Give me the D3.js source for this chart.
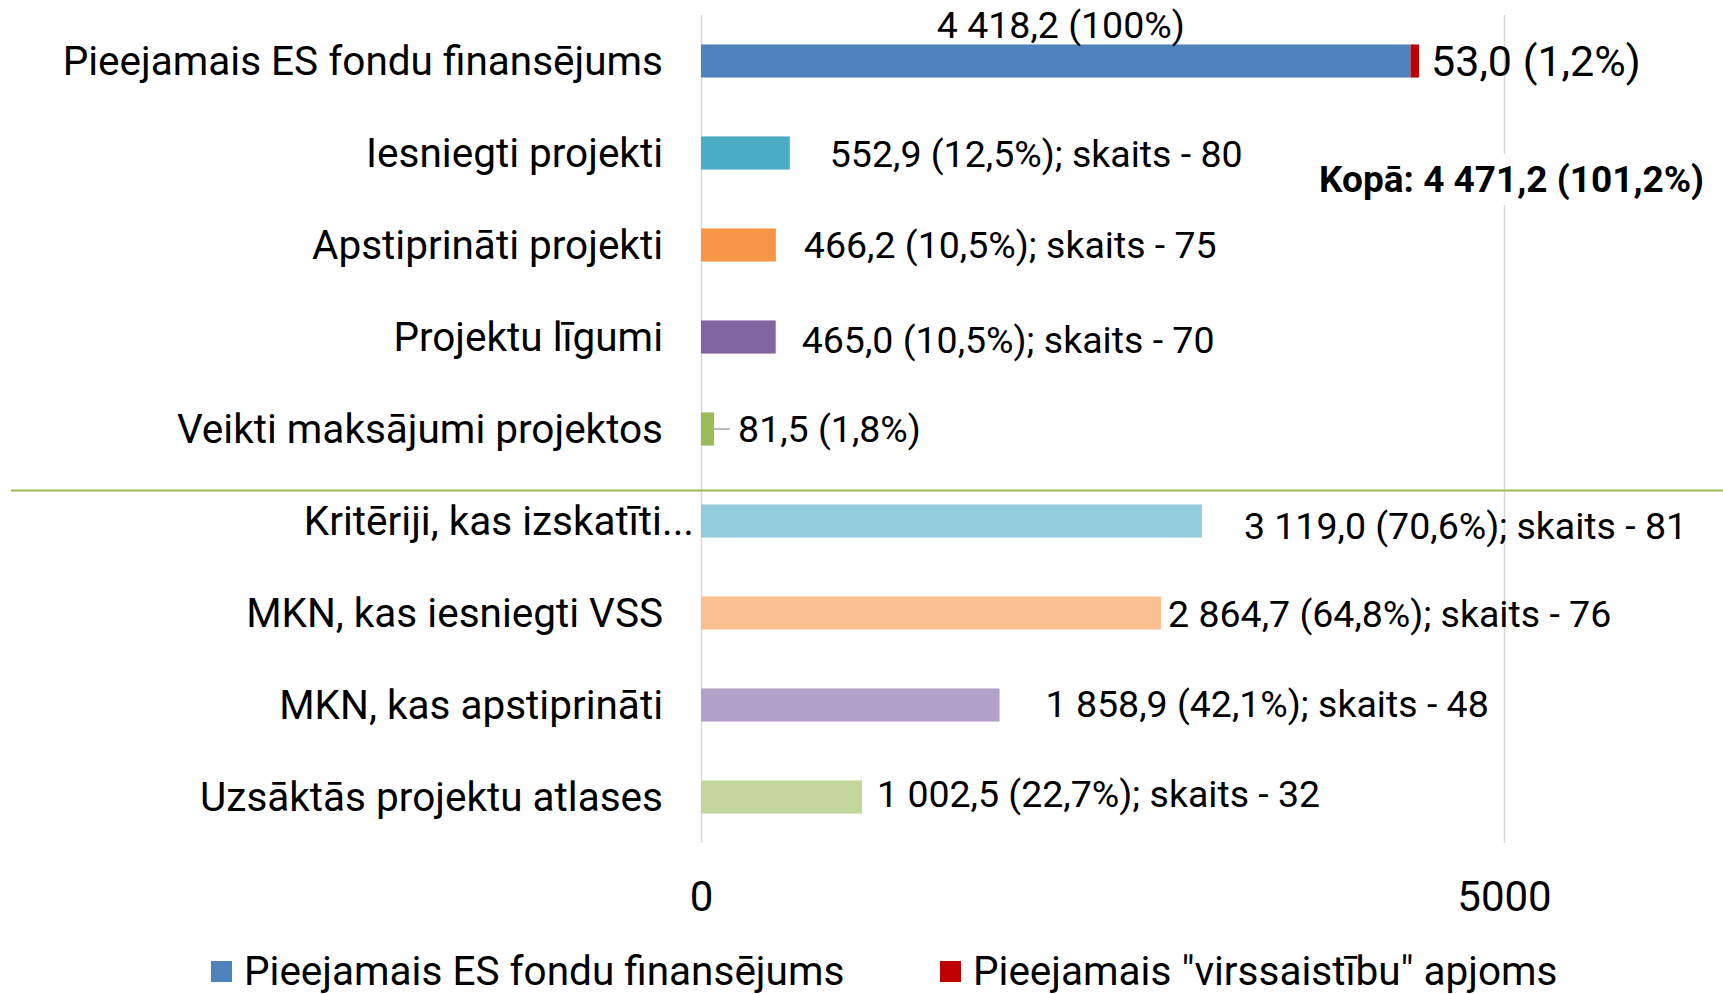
<!DOCTYPE html>
<html>
<head>
<meta charset="utf-8">
<script src="https://cdn.jsdelivr.net/npm/d3@7"></script>
<style>
  body { margin: 0; background: #fff; }
  svg { display: block; font-family: Roboto, "Liberation Sans", sans-serif; }
</style>
</head>
<body>
<div id="wrapper"></div>
<script>
// Data
const categories = [
  "Pieejamais ES fondu finansējums",
  "Iesniegti projekti",
  "Apstiprināti projekti",
  "Projektu līgumi",
  "Veikti maksājumi projektos",
  "Kritēriji, kas izskatīti...",
  "MKN, kas iesniegti VSS",
  "MKN, kas apstiprināti",
  "Uzsāktās projektu atlases",
];
const values = [4418.2, 552.9, 466.2, 465.0, 81.5, 3119.0, 2864.7, 1858.9, 1002.5];
const percents = [100, 12.5, 10.5, 10.5, 1.8, 70.6, 64.8, 42.1, 22.7];
const counts = [null, 80, 75, 70, null, 81, 76, 48, 32];
const barColors = [
  "#4F81BD", "#4BACC6", "#F79646", "#8064A2", "#9BBB59",
  "#93CDDD", "#FAC090", "#B3A2C7", "#C3D69B",
];
const overValue = 53.0;
const overPercent = 1.2;
const totalValue = 4471.2;
const totalPercent = 101.2;
const xTicks = [0, 5000];
const legendLabels = ["Pieejamais ES fondu finansējums", "Pieejamais \"virssaistību\" apjoms"];
const legendColors = ["#4F81BD", "#C00000"];

// Label nudges (layout only, as placed by hand in the original)
const labelShiftX = [0, 40, 28, 26, 24, 42, 7, 46, 15];
const labelShiftY = [0, 1, 0, 3, 0, 5, 1, -1, -3];

async function drawChart() {
  const width = 1723;
  const height = 994;

  const locale = d3.formatLocale({ decimal: ",", thousands: " ", grouping: [3], currency: ["", ""] });
  const formatValue = locale.format(",.1f");
  const formatPct = (p) => (p === 100 ? "100" : locale.format(".1f")(p));

  const wrapper = d3.select("#wrapper")
    .append("svg")
    .attr("width", width)
    .attr("height", height);

  // Scales
  const xScale = d3.scaleLinear().domain([0, 5000]).range([701, 1504]);
  const yScale = d3.scaleBand()
    .domain(categories)
    .range([15, 843])
    .paddingInner(0.64)
    .paddingOuter(0.32);

  // Gridlines
  const gridAxis = d3.axisBottom(xScale)
    .tickValues(xTicks)
    .tickSize(-(843 - 15))
    .tickFormat("");
  const grid = wrapper.append("g")
    .attr("transform", "translate(0,843)")
    .call(gridAxis);
  grid.select(".domain").remove();
  grid.selectAll("line").attr("stroke", "#D9D9D9").attr("stroke-width", 1.5);

  // Tick labels
  const tickAxis = d3.axisBottom(xScale)
    .tickValues(xTicks)
    .tickSize(0)
    .tickFormat(d3.format("d"));
  const ticks = wrapper.append("g")
    .attr("transform", "translate(0,878)")
    .call(tickAxis);
  ticks.select(".domain").remove();
  ticks.selectAll("text")
    .attr("font-family", "Roboto")
    .attr("font-size", 42)
    .attr("fill", "#000");

  // Separator between the two groups
  const sepY = yScale(categories[5]) - 14;
  wrapper.append("line")
    .attr("x1", 11).attr("x2", width)
    .attr("y1", sepY).attr("y2", sepY)
    .attr("stroke", "#9BBB59")
    .attr("stroke-width", 2);

  // Bars
  wrapper.append("g")
    .selectAll("rect")
    .data(values)
    .join("rect")
    .attr("x", xScale(0))
    .attr("y", (d, i) => yScale(categories[i]))
    .attr("width", (d) => xScale(d) - xScale(0))
    .attr("height", yScale.bandwidth())
    .attr("fill", (d, i) => barColors[i]);

  // Over-commitment segment stacked on the first bar
  wrapper.append("rect")
    .attr("x", xScale(values[0]))
    .attr("y", yScale(categories[0]))
    .attr("width", xScale(values[0] + overValue) - xScale(values[0]))
    .attr("height", yScale.bandwidth())
    .attr("fill", "#C00000");

  // Category labels
  wrapper.append("g")
    .selectAll("text")
    .data(categories)
    .join("text")
    .attr("x", (d) => (d.endsWith("...") ? xScale(0) - 7 : xScale(0) - 38))
    .attr("y", (d) => yScale(d) + yScale.bandwidth() / 2)
    .attr("dy", "0.35em")
    .attr("text-anchor", "end")
    .attr("font-size", 40.5)
    .attr("fill", "#000")
    .text((d) => d);

  // Data labels
  const mid = (i) => yScale(categories[i]) + yScale.bandwidth() / 2;

  wrapper.append("text")
    .attr("x", (xScale(0) + xScale(values[0])) / 2 + 5)
    .attr("y", 38)
    .attr("text-anchor", "middle")
    .attr("font-size", 37.5)
    .attr("fill", "#000")
    .text(`${formatValue(values[0])} (${formatPct(percents[0])}%)`);

  wrapper.append("text")
    .attr("x", xScale(values[0] + overValue) + 12)
    .attr("y", mid(0))
    .attr("dy", "0.35em")
    .attr("font-size", 43)
    .attr("fill", "#000")
    .text(`${formatValue(overValue)} (${formatPct(overPercent)}%)`);

  const rest = d3.range(1, values.length);
  wrapper.append("g")
    .selectAll("text")
    .data(rest)
    .join("text")
    .attr("x", (i) => xScale(values[i]) + labelShiftX[i])
    .attr("y", (i) => mid(i) + labelShiftY[i])
    .attr("dy", "0.35em")
    .attr("font-size", 37.5)
    .attr("fill", "#000")
    .text((i) => {
      const base = `${formatValue(values[i])} (${formatPct(percents[i])}%)`;
      return counts[i] == null ? base : `${base}; skaits - ${counts[i]}`;
    });

  // Leader line for the small bar
  wrapper.append("line")
    .attr("x1", xScale(values[4]))
    .attr("x2", xScale(values[4]) + labelShiftX[4] - 8)
    .attr("y1", mid(4)).attr("y2", mid(4))
    .attr("stroke", "#A6A6A6")
    .attr("stroke-width", 1.5);

  // Total label with white background
  const total = wrapper.append("g");
  const totalBg = total.append("rect").attr("fill", "#fff");
  const totalText = total.append("text")
    .attr("x", 1319)
    .attr("y", 192)
    .attr("font-size", 37)
    .attr("font-weight", "bold")
    .attr("fill", "#000")
    .text(`Kopā: ${formatValue(totalValue)} (${formatPct(totalPercent)}%)`);
  const bb = totalText.node().getBBox();
  totalBg
    .attr("x", bb.x - 8).attr("y", bb.y - 4)
    .attr("width", bb.width + 16).attr("height", bb.height + 8);

  // Legend
  const legend = wrapper.append("g")
    .selectAll("g")
    .data(legendLabels)
    .join("g")
    .attr("transform", (d, i) => `translate(${[211, 940][i]}, 961)`);
  legend.append("rect")
    .attr("width", 21).attr("height", 21)
    .attr("fill", (d, i) => legendColors[i]);
  legend.append("text")
    .attr("x", 33)
    .attr("y", 24)
    .attr("font-size", 40.5)
    .attr("fill", "#000")
    .text((d) => d);
}

drawChart();
</script>
</body>
</html>
